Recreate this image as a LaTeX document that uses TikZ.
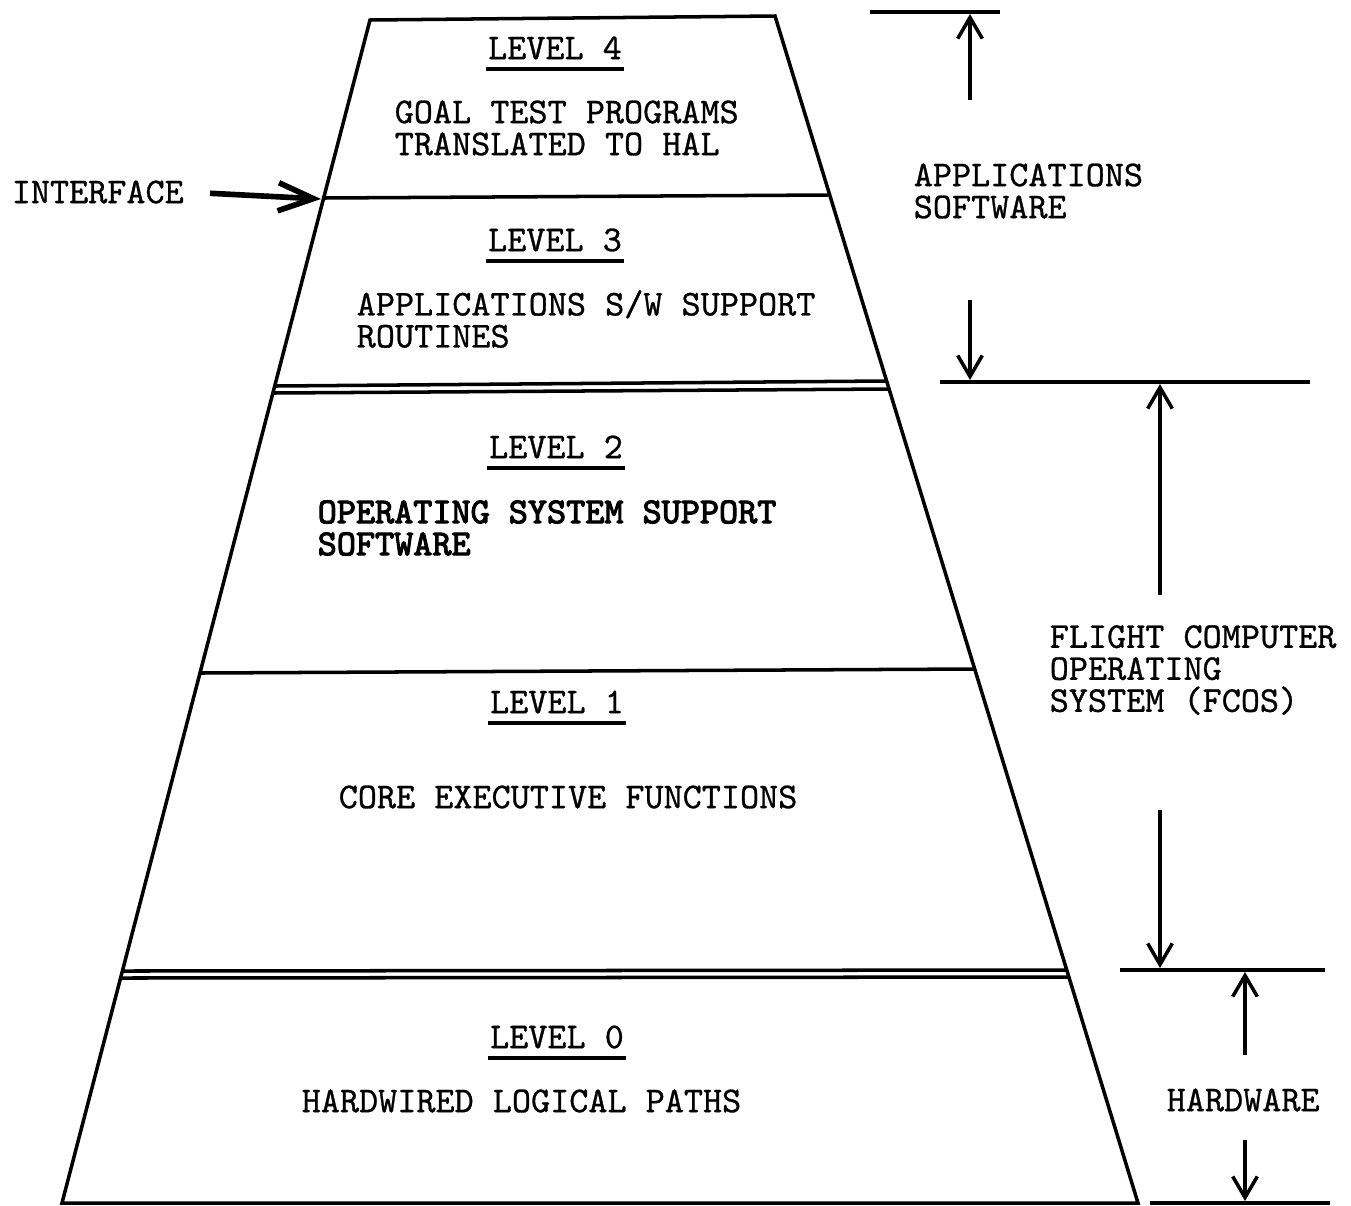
\documentclass[tikz,border=0pt]{standalone}
\usepackage{fontspec}
\setmonofont{lmmono10-regular.otf}[FakeBold=0.8, BoldFont=lmmono10-regular.otf, BoldFeatures={FakeBold=3}]
\usetikzlibrary{arrows.meta,positioning}

\begin{document}
\begin{tikzpicture}[x=0.01cm, y=-0.01cm, line width=1pt, >={Straight Barb[length=6pt,width=7pt]}, font=\ttfamily\fontsize{10.35}{9.1}\selectfont]
\tikzstyle{every node}=[inner sep=0pt]
\tikzstyle{txt}=[anchor=west, align=left]
\tikzstyle{lvl}=[anchor=center]
\tikzstyle{uline}=[line width=1.2pt]

\useasboundingbox (0,0) rectangle (1351,1205);

% pyramid outline
\coordinate (tl) at (370,20);
\coordinate (tr) at (775,16);
\coordinate (bl) at (62,1203);
\coordinate (br) at (1138,1203);
\draw (bl) -- (tl) -- (tr) -- (br) -- cycle;

% level boundaries
\draw (323,198) -- (828,195);
\draw (275,386) -- (885,381);
\draw (273,393) -- (889,389);
\draw (200,673) -- (974,669);
\draw (123,971) -- (1067,970);
\draw (121,978) -- (1069,977);

% levels
\node[lvl]	(l4)	at (555,48)	{LEVEL 4};
\node[txt]	(goal)	at (393,128)	{GOAL TEST PROGRAMS\\TRANSLATED TO HAL};
\node[lvl]	(l3)	at (555,240)	{LEVEL 3};
\node[txt]	(apps)	at (355,319)	{APPLICATIONS S/W SUPPORT\\ROUTINES};
\node[lvl]	(l2)	at (556,447)	{LEVEL 2};
\node[txt, font=\ttfamily\fontsize{10.35}{9.1}\selectfont\bfseries]	(ossup)	at (316,528)	{OPERATING SYSTEM SUPPORT\\SOFTWARE};
\node[lvl]	(l1)	at (557,702)	{LEVEL 1};
\node[txt]	(core)	at (337,797)	{CORE EXECUTIVE FUNCTIONS};
\node[lvl]	(l0)	at (557,1037)	{LEVEL 0};
\node[txt]	(hwpath)	at (300,1101)	{HARDWIRED LOGICAL PATHS};

\foreach \n in {l4,l3,l2,l1,l0}
	\draw[uline] ([yshift=-2.2pt]\n.south west) -- ([yshift=-2.2pt]\n.south east);

% interface
\node[txt]	(intf)	at (10,192)	{INTERFACE};
\coordinate (ifc) at (321,199);
\draw[->, line width=1.6pt, >={Straight Barb[length=10pt,width=8pt]}, shorten <=7pt] (intf.east) -- (ifc);

% right hand scale
\node[txt]	(appsw)	at (912,191)	{APPLICATIONS\\SOFTWARE};
\node[txt]	(fcos)	at (1048,670)	{FLIGHT COMPUTER\\OPERATING\\SYSTEM (FCOS)};
\node[txt]	(hw)	at (1165,1100)	{HARDWARE};

\draw (870,12) -- (1000,12);
\draw (940,382) -- (1310,382);
\draw (1120,970) -- (1325,970);
\draw (1150,1203) -- (1330,1203);

\draw[->] (970,100) -- (970,14);
\draw[->] (970,300) -- (970,380);
\draw[->] (1160,595) -- (1160,384);
\draw[->] (1160,810) -- (1160,968);
\draw[->] (1245,1055) -- (1245,972);
\draw[->] (1245,1140) -- (1245,1201);

\end{tikzpicture}
\end{document}
